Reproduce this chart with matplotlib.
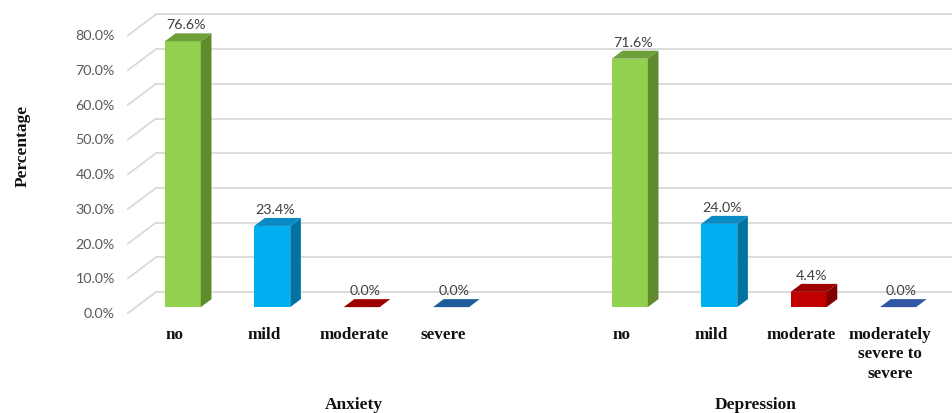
import matplotlib
matplotlib.use("Agg")
import matplotlib.pyplot as plt
from matplotlib.patches import Polygon, Rectangle

# ---- data ----
groups = ["Anxiety", "Depression"]
anxiety_cats = ["no", "mild", "moderate", "severe"]
anxiety_vals = [76.6, 23.4, 0.0, 0.0]
depression_cats = ["no", "mild", "moderate", "moderately\nsevere to\nsevere"]
depression_vals = [71.6, 24.0, 4.4, 0.0]
y_ticks = [0, 10, 20, 30, 40, 50, 60, 70, 80]
y_tick_labels = ["0.0%", "10.0%", "20.0%", "30.0%", "40.0%", "50.0%", "60.0%", "70.0%", "80.0%"]

# ---- styling ----
front_cols = {"no": "#92d050", "mild": "#00b0f0", "moderate": "#c00000", "sev_a": "#1f5c9c", "sev_d": "#2f55a3"}
side_cols = {"no": "#5f8b2d", "mild": "#0073a3", "moderate": "#7f0000", "sev_a": "#154573", "sev_d": "#203c78"}
top_cols = {"no": "#6e9f38", "mild": "#0a8bc4", "moderate": "#9c0000", "sev_a": "#1f5c9c", "sev_d": "#2f55a3"}
keys = ["no", "mild", "moderate"]

W, H = 953, 413
fig = plt.figure(figsize=(W / 100, H / 100), dpi=100)
ax_left, ax_bottom_px, ax_top_px = 128, 313, 0
px_per_pct = 3.47
px_per_slot = 89.4
ax = fig.add_axes([ax_left / W, (H - ax_bottom_px) / H, (W - ax_left) / W, (ax_bottom_px - ax_top_px) / H])
ymax = (ax_bottom_px - ax_top_px) / px_per_pct
x0 = (ax_left - 175) / px_per_slot
x1 = (W - 175) / px_per_slot
ax.set_xlim(x0, x1)
ax.set_ylim(0, ymax)
for s in ax.spines.values():
    s.set_visible(False)
ax.set_xticks([])

# depth of the "3D" floor
Ddx = 28 / px_per_slot
Ddy = 21 / px_per_pct
f_front, f_back = 0.28, 0.66
bar_w = 36 / px_per_slot

grid_c = "#d9d9d9"
for t in y_ticks:
    ax.plot([x0, x0 + Ddx], [t, t + Ddy], color=grid_c, lw=1.3, zorder=1, clip_on=False)
    ax.plot([x0 + Ddx, x1], [t + Ddy, t + Ddy], color=grid_c, lw=1.3, zorder=1, clip_on=False)

ax.set_yticks(y_ticks)
ax.set_yticklabels(y_tick_labels, fontfamily="Lato", fontsize=10.3, color="#595959")
ax.tick_params(axis="y", length=0, pad=9.5)

def draw_bar(xc, v, fc, sc, tc):
    ox, oy = f_front * Ddx, f_front * Ddy
    bx, by = (f_back - f_front) * Ddx, (f_back - f_front) * Ddy
    xl = xc - bar_w / 2 + ox
    xr = xc + bar_w / 2 + ox
    yb = oy
    yt = oy + v
    if v > 0:
        ax.add_patch(Rectangle((xl, yb), bar_w, v, facecolor=fc, edgecolor="none", zorder=3))
        ax.add_patch(Polygon([(xr, yb), (xr + bx, yb + by), (xr + bx, yt + by), (xr, yt)],
                             closed=True, facecolor=sc, edgecolor="none", zorder=3))
    ax.add_patch(Polygon([(xl, yt), (xr, yt), (xr + bx, yt + by), (xl + bx, yt + by)],
                         closed=True, facecolor=tc, edgecolor="none", zorder=3))
    ax.text(xc + ox + bx * 0.3, yt + by + 0.6, f"{v:.1f}%", ha="center", va="bottom",
            fontfamily="Lato", fontsize=10.3, color="#404040", zorder=4)

serif = "Liberation Serif"
for i, (c, v) in enumerate(zip(anxiety_cats, anxiety_vals)):
    k = keys[i] if i < 3 else "sev_a"
    draw_bar(i, v, front_cols[k], side_cols[k], top_cols[k])
    ax.text(i, -(335 - 313) / px_per_pct, c, ha="center", va="center", fontfamily=serif,
            fontweight="bold", fontsize=12.3, color="#111111", clip_on=False)
for j, (c, v) in enumerate(zip(depression_cats, depression_vals)):
    i = j + 5
    k = keys[j] if j < 3 else "sev_d"
    draw_bar(i, v, front_cols[k], side_cols[k], top_cols[k])
    ax.text(i, -(335 - 313) / px_per_pct, c, ha="center", va="baseline" if False else "center",
            fontfamily=serif, fontweight="bold", fontsize=12.3, color="#111111",
            clip_on=False, linespacing=1.3) if "\n" not in c else \
        ax.text(i, -(327 - 313) / px_per_pct, c, ha="center", va="top", fontfamily=serif,
                fontweight="bold", fontsize=12.3, color="#111111", clip_on=False, linespacing=1.28)

ax.text(2, -(405 - 313) / px_per_pct, groups[0], ha="center", va="center", fontfamily=serif,
        fontweight="bold", fontsize=12.5, color="#111111", clip_on=False)
ax.text(6.5, -(405 - 313) / px_per_pct, groups[1], ha="center", va="center", fontfamily=serif,
        fontweight="bold", fontsize=12.5, color="#111111", clip_on=False)

fig.text(23 / W, (H - 146) / H, "Percentage", rotation=90, ha="center", va="center",
         fontfamily=serif, fontweight="bold", fontsize=12.5, color="#111111")

fig.savefig("out.png", dpi=100)
